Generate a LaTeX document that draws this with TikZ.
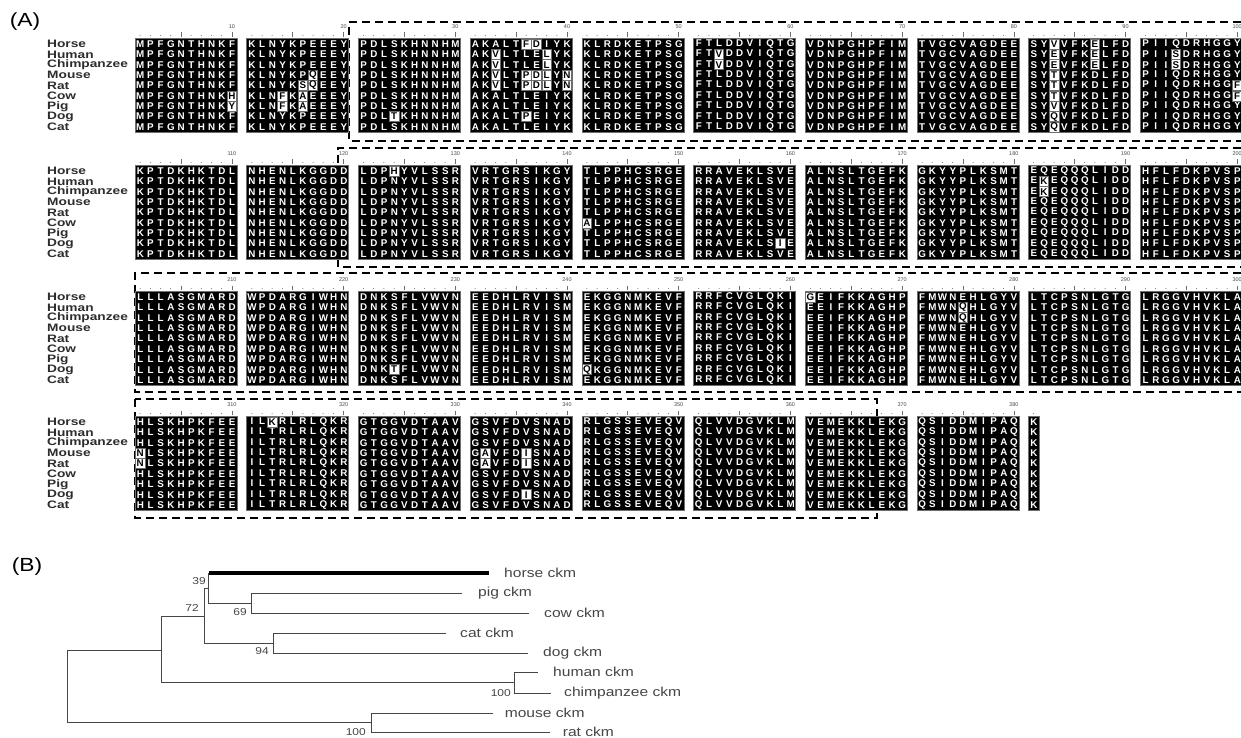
\documentclass[tikz,border=0pt]{standalone}
\usepackage{fontspec}
\setmainfont{Liberation Sans}
\newfontfamily\widefont[FakeStretch=1.2]{Liberation Sans}
\newfontfamily\spfont[FakeStretch=1.27]{Liberation Sans}
\usetikzlibrary{positioning}
\definecolor{alngray}{RGB}{110,110,110}
\definecolor{spdark}{RGB}{45,45,45}
\definecolor{treeink}{RGB}{70,70,70}

% one letter per residue column, '-' leaves the column empty
\newcommand\reswd{10.2pt}
\newcommand\resrun[1]{\ifx\relax#1\else\ifx-#1\makebox[\reswd]{}\else\makebox[\reswd]{#1}\fi\expandafter\resrun\fi}

\tikzset{
  resrow/.style={anchor=west,inner sep=0pt,text=white,font=\bfseries\fontsize{9.8}{9.8}\selectfont},
  resbg/.style={fill=black,draw=alngray,line width=0.6pt},
  varcell/.style={fill=white,draw=alngray,line width=0.6pt,inner sep=0pt,minimum width=9.4pt,
    minimum height=10pt,text=black,font=\bfseries\fontsize{9.8}{9.8}\selectfont},
  spname/.style={anchor=west,inner sep=0pt,text=spdark,font=\spfont\bfseries\fontsize{10.8}{10.8}\selectfont},
  rnum/.style={inner sep=0pt,font=\fontsize{5.5}{5.5}\selectfont,text=black!70},
  rtick/.style={draw=alngray,line width=0.6pt},
  boxline/.style={dash pattern=on 8pt off 5pt,line width=1.7pt},
  panel/.style={inner sep=0pt,font=\widefont\fontsize{19}{19}\selectfont},
  treeline/.style={draw=treeink,line width=0.9pt},
  horseline/.style={draw=black,line width=4pt},
  leaf/.style={anchor=west,inner sep=0pt,text=treeink,font=\widefont\fontsize{13}{13}\selectfont},
  boot/.style={anchor=east,inner sep=0pt,text=treeink,font=\widefont\fontsize{10}{10}\selectfont}
}

% species lines that differ: row-block-species / line with gaps
\foreach \key/\val in {
    1-1-5/MPFGNTHNK-, 1-1-6/MPFGNTHNK-,
    1-2-3/KLNYKP-EEY, 1-2-4/KLNYK--EEY, 1-2-5/KLN-K-EEEY, 1-2-6/KLN-K-EEEY,
    1-3-7/PDL-KHNNHM,
    1-4-0/AKALT--IYK, 1-4-1/AK-LTLE-YK, 1-4-2/AK-LTLE-YK, 1-4-3/AK-LT---Y-,
    1-4-4/AK-LT---Y-, 1-4-7/AKALT-EIYK,
    1-6-1/FT-DDVIQTG, 1-6-2/FT-DDVIQTG,
    1-9-0/SY-VFK-LFD, 1-9-1/SY-VFK-LFD, 1-9-2/SY-VFK-LFD, 1-9-3/SY-VFKDLFD,
    1-9-4/SY-VFKDLFD, 1-9-5/SY-VFKDLFD, 1-9-6/SY-VFKDLFD, 1-9-7/SY-VFKDLFD,
    1-9-8/SY-VFKDLFD,
    1-10-1/PII-DRHGGY, 1-10-2/PII-DRHGGY, 1-10-4/PIIQDRHGG-, 1-10-5/PIIQDRHGG-,
    2-3-0/LDP-YVLSSR, 2-5-5/-LPPHCSRGE, 2-6-7/RRAVEKLS-E, 2-9-1/E-EQQQLIDD,
    2-9-2/E-EQQQLIDD,
    3-3-7/DNK-FLVWVN, 3-5-7/-KGGNMKEVF, 3-7-0/-EIFKKAGHP, 3-8-1/FMWN-HLGYV,
    3-8-2/FMWN-HLGYV,
    4-1-3/-LSKHPKFEE, 4-1-4/-LSKHPKFEE, 4-2-0/IL-RLRLQKR, 4-4-3/G-VFD-SNAD,
    4-4-4/G-VFD-SNAD, 4-4-7/GSVFD-SNAD}{
  \expandafter\xdef\csname ov-\key\endcsname{\val}
}

% #1 = row, #2 = y of the Horse line, #3 = first residue - 1, #4 = block/length/sequence
\newcommand\alnrow[4]{%
  \foreach \k/\nres/\s in {#4}{%
    \pgfmathsetmacro\xa{135+111.7*(\k-1)}
    \fill[resbg] (\xa,#2-5.6) rectangle ++({10.2*\nres},94.2);
    \foreach \i in {0,...,8}{%
      \ifcsname ov-#1-\k-\i\endcsname
        \edef\srow{\csname ov-#1-\k-\i\endcsname}%
      \else
        \let\srow\s
      \fi
      \node[resrow] (res-#1-\k-\i) at (\xa,{#2+10.375*\i}) {\expandafter\resrun\srow\relax};
    }
    \foreach \p in {1,...,\nres}{%
      \pgfmathsetmacro\xp{\xa+10.2*(\p-0.5)}
      \ifnum\p=5 \draw[rtick] (\xp,#2-11.5) -- (\xp,#2-7);
      \else\ifnum\p=10 \draw[rtick] (\xp,#2-11.5) -- (\xp,#2-7);
      \else \fill[alngray] (\xp,#2-8.5) circle (0.5);\fi\fi
    }
    \ifnum\nres=10
      \pgfmathtruncatemacro\lab{#3+10*\k}
      \node[rnum] (num-\lab) at ({\xa+96.9},#2-17) {\lab};
    \fi
  }%
}

\begin{document}
\begin{tikzpicture}[x=1pt,y=-1pt]
\useasboundingbox[fill=white] (0,0) rectangle (1241,738);

\node[panel] (pA) at (25,22) {(A)};

% dashed frames
\draw[boxline] (1241,22) -| (349,141) -- (1241,141);
\draw[boxline] (1241,148) -| (338,267) -- (1241,267);
\draw[boxline] (1241,273) -| (135,392) -- (1241,392);
\draw[boxline] (135,399) rectangle (877,518);

\foreach \yy in {44,171,297,422}
  \foreach \sp [count=\i from 0] in {Horse,Human,Chimpanzee,Mouse,Rat,Cow,Pig,Dog,Cat}
    \node[spname] (sp-\yy-\i) at (47,{\yy+10.375*\i}) {\sp};

\alnrow{1}{44}{0}{1/10/MPFGNTHNKF,2/10/KLNYKPEEEY,3/10/PDLSKHNNHM,4/10/AKALTLEIYK,5/10/KLRDKETPSG,
  6/10/FTLDDVIQTG,7/10/VDNPGHPFIM,8/10/TVGCVAGDEE,9/10/SYVVFKDLFD,10/10/PIIQDRHGGY}
\alnrow{2}{171}{100}{1/10/KPTDKHKTDL,2/10/NHENLKGGDD,3/10/LDPNYVLSSR,4/10/VRTGRSIKGY,5/10/TLPPHCSRGE,
  6/10/RRAVEKLSVE,7/10/ALNSLTGEFK,8/10/GKYYPLKSMT,9/10/EQEQQQLIDD,10/10/HFLFDKPVSP}
\alnrow{3}{297}{200}{1/10/LLLASGMARD,2/10/WPDARGIWHN,3/10/DNKSFLVWVN,4/10/EEDHLRVISM,5/10/EKGGNMKEVF,
  6/10/RRFCVGLQKI,7/10/EEIFKKAGHP,8/10/FMWNEHLGYV,9/10/LTCPSNLGTG,10/10/LRGGVHVKLA}
\alnrow{4}{422}{300}{1/10/HLSKHPKFEE,2/10/ILTRLRLQKR,3/10/GTGGVDTAAV,4/10/GSVFDVSNAD,5/10/RLGSSEVEQV,
  6/10/QLVVDGVKLM,7/10/VEMEKKLEKG,8/10/QSIDDMIPAQ,9/1/K}

% row/block/species/position/residue
\foreach \r/\k/\i/\p/\c in {
    1/1/5/10/H, 1/1/6/10/Y,
    1/2/3/7/Q, 1/2/4/6/S, 1/2/4/7/Q, 1/2/5/4/F, 1/2/5/6/A, 1/2/6/4/F, 1/2/6/6/A,
    1/3/7/4/T,
    1/4/0/6/F, 1/4/0/7/D, 1/4/1/3/V, 1/4/1/8/L, 1/4/2/3/V, 1/4/2/8/L,
    1/4/3/3/V, 1/4/3/6/P, 1/4/3/7/D, 1/4/3/8/L, 1/4/3/10/N,
    1/4/4/3/V, 1/4/4/6/P, 1/4/4/7/D, 1/4/4/8/L, 1/4/4/10/N, 1/4/7/6/P,
    1/6/1/3/V, 1/6/2/3/V,
    1/9/0/3/V, 1/9/1/3/E, 1/9/2/3/E, 1/9/3/3/T, 1/9/4/3/T, 1/9/5/3/T, 1/9/6/3/V,
    1/9/7/3/Q, 1/9/8/3/Q, 1/9/0/7/E, 1/9/1/7/E, 1/9/2/7/E,
    1/10/1/4/S, 1/10/2/4/S, 1/10/4/10/F, 1/10/5/10/F,
    2/3/0/4/H, 2/5/5/1/A, 2/6/7/9/I, 2/9/1/2/K, 2/9/2/2/K,
    3/3/7/4/T, 3/5/7/1/Q, 3/7/0/1/G, 3/8/1/5/Q, 3/8/2/5/Q,
    4/1/3/1/N, 4/1/4/1/N, 4/2/0/3/K, 4/4/3/2/A, 4/4/3/6/I,
    4/4/4/2/A, 4/4/4/6/I, 4/4/7/6/I}{
  \pgfmathsetmacro\yr{{44,171,297,422}[\r-1]}
  \node[varcell] (var-\r-\k-\i-\p) at ({135+111.7*(\k-1)+10.2*(\p-0.5)},{\yr+10.375*\i}) {\c};
}

% (B) tree
\node[panel] (pB) at (27,567) {(B)};

\coordinate (root) at (67,686.5);
\coordinate (nA) at (161.5,650);
\coordinate (n72) at (204,616);
\coordinate (n39) at (208.6,588);
\coordinate (n69) at (251,603);
\coordinate (n94) at (273.7,643);
\coordinate (nhc) at (514.6,682.5);
\coordinate (nmr) at (371.5,722.5);
\coordinate (lhorse) at (489,573);
\coordinate (lpig) at (462,593);
\coordinate (lcow) at (529,613);
\coordinate (lcat) at (446,633);
\coordinate (ldog) at (528,653);
\coordinate (lhuman) at (538,672);
\coordinate (lchimp) at (551,693);
\coordinate (lmouse) at (492.6,713);
\coordinate (lrat) at (549.6,732);

\draw[treeline] (root) |- (nA);
\draw[treeline] (root) |- (nmr);
\draw[treeline] (nA) |- (n72);
\draw[treeline] (nA) |- (nhc);
\draw[treeline] (n72) |- (n39);
\draw[treeline] (n72) |- (n94);
\draw[treeline] (n39) |- (n69);
\draw[treeline] (n39) -- (n39 |- lhorse);
\draw[horseline] (n39 |- lhorse) -- (lhorse);
\draw[treeline] (n69) |- (lpig);
\draw[treeline] (n69) |- (lcow);
\draw[treeline] (n94) |- (lcat);
\draw[treeline] (n94) |- (ldog);
\draw[treeline] (nhc) |- (lhuman);
\draw[treeline] (nhc) |- (lchimp);
\draw[treeline] (nmr) |- (lmouse);
\draw[treeline] (nmr) |- (lrat);

\node[leaf,right=15pt of lhorse] (thorse) {horse ckm};
\node[leaf,right=16pt of lpig] (tpig) {pig ckm};
\node[leaf,right=15pt of lcow] (tcow) {cow ckm};
\node[leaf,right=14pt of lcat] (tcat) {cat ckm};
\node[leaf,right=15pt of ldog] (tdog) {dog ckm};
\node[leaf,right=15pt of lhuman] (thuman) {human ckm};
\node[leaf,right=13pt of lchimp] (tchimp) {chimpanzee ckm};
\node[leaf,right=12pt of lmouse] (tmouse) {mouse ckm};
\node[leaf,right=13pt of lrat] (trat) {rat ckm};

\node[boot] (b39) at (206,581) {39};
\node[boot] (b72) at (199,608) {72};
\node[boot] (b69) at (247,612) {69};
\node[boot] (b94) at (269,651) {94};
\node[boot] (bhc) at (511,693) {100};
\node[boot] (bmr) at (366,732) {100};
\end{tikzpicture}
\end{document}
